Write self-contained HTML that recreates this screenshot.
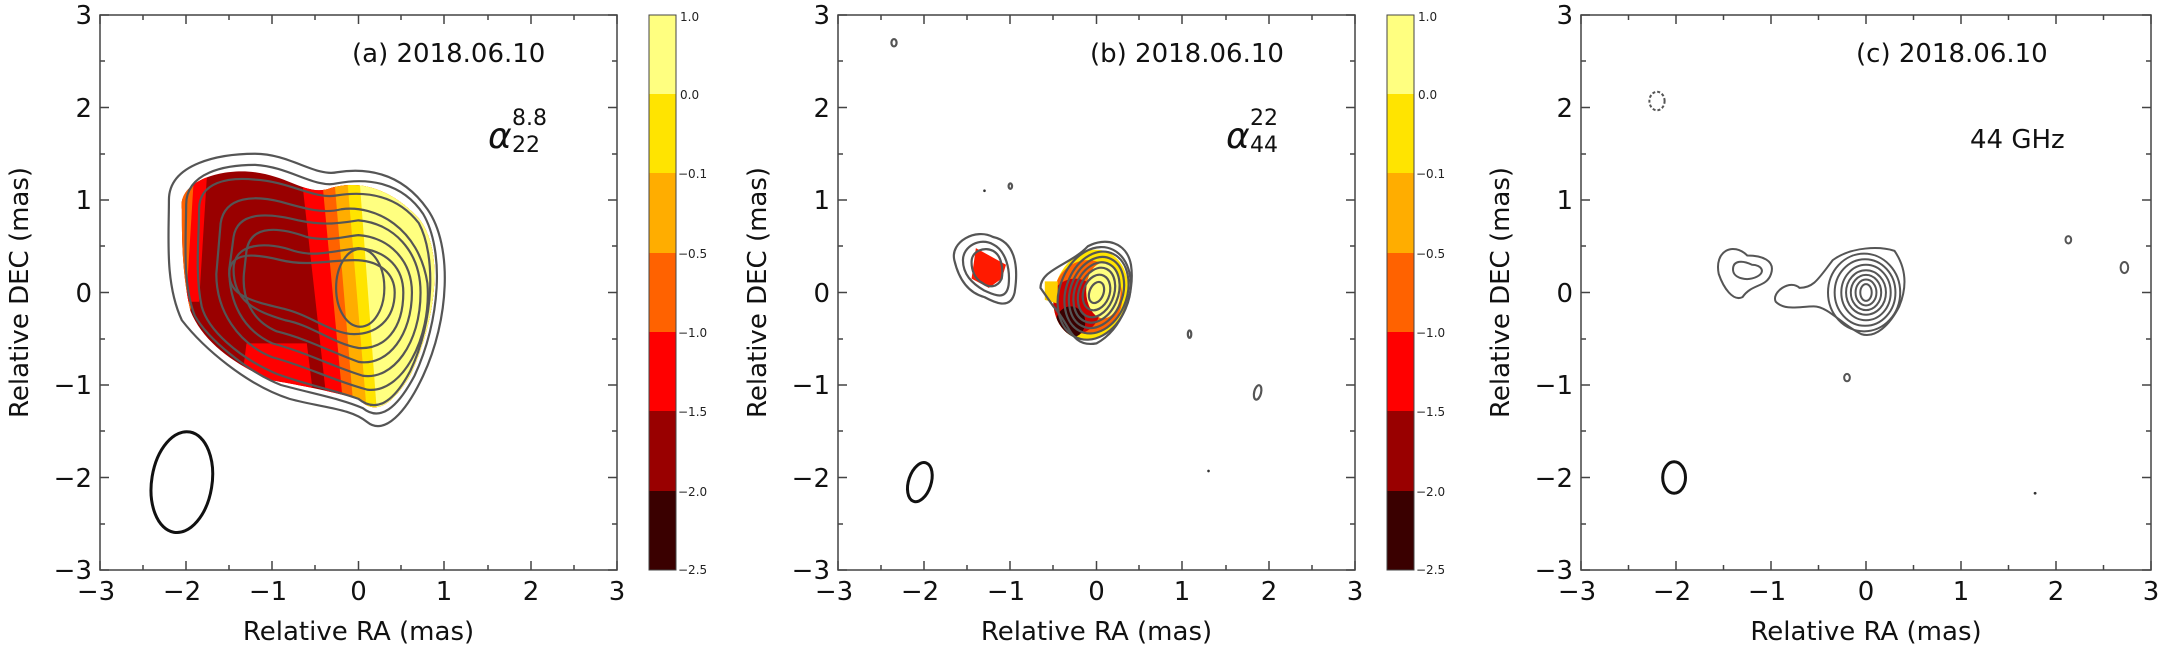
<!DOCTYPE html>
<html><head><meta charset="utf-8"><style>
html,body{margin:0;padding:0;background:#fff}
svg{display:block}
text{font-family:"DejaVu Sans","Liberation Sans",sans-serif}
</style></head><body>
<svg width="2170" height="650" viewBox="0 0 2170 650" xmlns="http://www.w3.org/2000/svg">
<defs>
<clipPath id="blobA"><path d="M-2.05,0.9 C-2.1,1.2 -1.6,1.35 -1.2,1.3 C-0.8,1.25 -0.6,1.05 -0.35,1.12 C-0.1,1.2 0.3,1.2 0.7,0.8 C1.0,0.45 0.9,-0.3 0.6,-0.9 C0.4,-1.2 0.2,-1.35 0.0,-1.15 C-0.4,-1.05 -0.7,-1.0 -1.0,-0.95 C-1.4,-0.8 -1.8,-0.55 -1.95,-0.2 C-2.05,0.2 -2.05,0.6 -2.05,0.9 Z"/></clipPath>
<clipPath id="coreB"><ellipse cx="-0.05" cy="-0.05" rx="0.42" ry="0.5" transform="rotate(-25)"/></clipPath>
</defs>

<!-- ===== PANEL A ===== -->
<g transform="translate(358.5,292.5) scale(86.17,-92.5)">
  <g clip-path="url(#blobA)">
    <rect x="-3" y="-3" width="6" height="6" fill="#990000"/>
    <polygon points="-0.75,2 3,2 3,-3 -0.15,-3" fill="#ff0000"/>
    <polygon points="-0.5,2 3,2 3,-3 0.0,-3" fill="#ff6200"/>
    <polygon points="-0.35,2 3,2 3,-3 0.1,-3" fill="#ffad00"/>
    <polygon points="-0.2,2 3,2 3,-3 0.25,-3" fill="#ffe400"/>
    <polygon points="-0.05,2 3,2 3,-3 0.35,-3" fill="#ffff80"/>
    <polygon points="-2.2,1.4 -1.75,1.4 -1.95,-0.2 -2.2,-0.2" fill="#ff6200"/>
    <polygon points="-1.9,1.4 -1.75,1.4 -1.85,-0.1 -2.0,-0.1" fill="#ff0000"/>
    <polygon points="-1.3,-0.55 -0.6,-0.55 -0.5,-1.3 -1.4,-1.3" fill="#ff0000"/>
  </g>
  <g fill="none" stroke="#555" stroke-width="2.2">
    <path vector-effect="non-scaling-stroke" d="M-2.2,1.0 C-2.2,1.4 -1.6,1.5 -1.2,1.5 C-0.8,1.5 -0.5,1.25 -0.25,1.3 C0.1,1.35 0.5,1.3 0.8,0.9 C1.1,0.5 1.05,-0.3 0.75,-0.9 C0.55,-1.3 0.3,-1.55 0.1,-1.4 C-0.1,-1.25 -0.4,-1.25 -0.8,-1.15 C-1.3,-1.0 -1.8,-0.6 -2.05,-0.3 C-2.25,0.1 -2.2,0.6 -2.2,1.0 Z"/>
    <path vector-effect="non-scaling-stroke" d="M-2.0,0.95 C-2.0,1.3 -1.55,1.38 -1.2,1.38 C-0.8,1.36 -0.5,1.12 -0.25,1.18 C0.1,1.24 0.5,1.2 0.75,0.85 C1.0,0.45 0.95,-0.3 0.65,-0.9 C0.45,-1.25 0.25,-1.4 0.05,-1.25 C-0.2,-1.15 -0.5,-1.1 -0.9,-1.0 C-1.3,-0.85 -1.75,-0.5 -1.9,-0.25 C-2.05,0.1 -2.0,0.6 -2.0,0.95 Z"/>
    <path vector-effect="non-scaling-stroke" d="M-1.85,0.9 C-1.85,1.2 -1.5,1.25 -1.2,1.22 C-0.8,1.2 -0.5,1.0 -0.25,1.05 C0.1,1.1 0.45,1.05 0.7,0.75 C0.9,0.4 0.88,-0.3 0.6,-0.85 C0.4,-1.2 0.2,-1.3 0.0,-1.15 C-0.3,-1.05 -0.6,-1.0 -0.95,-0.88 C-1.4,-0.7 -1.75,-0.4 -1.82,-0.15 C-1.9,0.2 -1.85,0.6 -1.85,0.9 Z"/>
    <path vector-effect="non-scaling-stroke" d="M-1.6,0.75 C-1.55,1.05 -1.2,1.05 -0.9,0.98 C-0.6,0.9 -0.4,0.85 -0.2,0.9 C0.2,0.95 0.7,0.7 0.8,0.1 C0.85,-0.5 0.5,-1.1 0.1,-1.05 C-0.3,-0.95 -0.6,-0.8 -1.0,-0.7 C-1.4,-0.55 -1.65,-0.2 -1.65,0.2 Z"/>
    <path vector-effect="non-scaling-stroke" d="M-1.45,0.6 C-1.4,0.9 -1.0,0.85 -0.7,0.78 C-0.4,0.72 -0.2,0.75 0.0,0.78 C0.4,0.75 0.72,0.45 0.72,0.0 C0.72,-0.55 0.4,-0.95 0.05,-0.9 C-0.3,-0.8 -0.6,-0.65 -1.0,-0.55 C-1.35,-0.4 -1.5,-0.1 -1.5,0.25 Z"/>
    <path vector-effect="non-scaling-stroke" d="M-1.3,0.45 C-1.25,0.75 -0.9,0.7 -0.6,0.6 C-0.35,0.55 -0.2,0.6 0.0,0.62 C0.35,0.6 0.62,0.35 0.62,0.0 C0.62,-0.45 0.35,-0.8 0.0,-0.75 C-0.3,-0.65 -0.6,-0.5 -0.95,-0.42 C-1.25,-0.3 -1.35,-0.05 -1.33,0.2 Z"/>
    <path vector-effect="non-scaling-stroke" d="M-1.45,0.25 C-1.45,0.55 -1.05,0.55 -0.75,0.45 C-0.5,0.38 -0.3,0.45 0.0,0.48 C0.35,0.45 0.52,0.25 0.52,0.0 C0.52,-0.4 0.3,-0.62 0.0,-0.6 C-0.3,-0.55 -0.55,-0.35 -0.85,-0.3 C-1.2,-0.2 -1.45,-0.1 -1.45,0.25 Z"/>
    <path vector-effect="non-scaling-stroke" d="M-1.5,0.2 C-1.5,0.45 -1.2,0.42 -0.9,0.35 C-0.6,0.28 -0.35,0.35 -0.05,0.35 C0.25,0.35 0.42,0.2 0.42,0.0 C0.42,-0.3 0.2,-0.45 -0.05,-0.45 C-0.3,-0.45 -0.55,-0.25 -0.85,-0.18 C-1.2,-0.1 -1.5,-0.05 -1.5,0.2 Z"/>
    <ellipse vector-effect="non-scaling-stroke" cx="0.02" cy="0.05" rx="0.28" ry="0.42"/>
  </g>
  <ellipse vector-effect="non-scaling-stroke" cx="-2.05" cy="-2.05" rx="0.35" ry="0.55" transform="rotate(-10 -2.05 -2.05)" fill="none" stroke="#111" stroke-width="3"/>
</g>

<!-- ===== PANEL B ===== -->
<g transform="translate(1096.5,292.5) scale(86.17,-92.5)">
  <polygon points="-1.4,0.48 -1.05,0.3 -1.1,0.15 -1.25,0.05 -1.45,0.15" fill="#ff1a00"/>
  <g clip-path="url(#coreB)">
    <rect x="-1" y="-1" width="2" height="2" fill="#ffe400"/>
    <circle cx="-0.1" cy="-0.05" r="0.4" fill="#ff6200"/>
    <circle cx="-0.25" cy="-0.15" r="0.3" fill="#cc0000"/>
    <circle cx="-0.3" cy="-0.32" r="0.17" fill="#3a0000"/>
    <ellipse cx="0.08" cy="0.02" rx="0.2" ry="0.3" fill="#ffff80"/>
  </g>
  <polygon points="-0.6,0.12 -0.45,0.12 -0.45,-0.12 -0.6,-0.08" fill="#ffd000"/>
  <g fill="none" stroke="#555" stroke-width="2.2">
    <path vector-effect="non-scaling-stroke" d="M-1.65,0.35 C-1.7,0.55 -1.4,0.7 -1.2,0.6 C-0.95,0.55 -0.9,0.3 -0.95,0.0 C-1.0,-0.2 -1.2,-0.1 -1.3,-0.05 C-1.5,0.0 -1.6,0.15 -1.65,0.35 Z"/>
    <path vector-effect="non-scaling-stroke" d="M-1.55,0.35 C-1.55,0.5 -1.35,0.6 -1.2,0.52 C-1.05,0.45 -1.0,0.25 -1.02,0.08 C-1.05,-0.1 -1.2,-0.02 -1.3,0.02 C-1.45,0.1 -1.55,0.2 -1.55,0.35 Z"/>
    <path vector-effect="non-scaling-stroke" d="M-1.45,0.33 C-1.45,0.45 -1.3,0.5 -1.2,0.45 C-1.1,0.4 -1.08,0.25 -1.1,0.15 C-1.15,0.05 -1.25,0.05 -1.32,0.1 C-1.42,0.15 -1.45,0.25 -1.45,0.33 Z"/>
    <path vector-effect="non-scaling-stroke" d="M-0.65,0.05 C-0.65,0.25 -0.3,0.3 -0.1,0.5 C0.1,0.6 0.35,0.55 0.4,0.3 C0.45,0.0 0.3,-0.4 0.0,-0.55 C-0.3,-0.6 -0.3,-0.35 -0.5,-0.15 Z"/>
    <ellipse vector-effect="non-scaling-stroke" cx="-0.02" cy="-0.02" rx="0.4" ry="0.52" transform="rotate(-25)"/>
    <ellipse vector-effect="non-scaling-stroke" cx="0" cy="0" rx="0.35" ry="0.46" transform="rotate(-25)"/>
    <ellipse vector-effect="non-scaling-stroke" cx="0" cy="0" rx="0.3" ry="0.4" transform="rotate(-25)"/>
    <ellipse vector-effect="non-scaling-stroke" cx="0" cy="0" rx="0.25" ry="0.34" transform="rotate(-25)"/>
    <ellipse vector-effect="non-scaling-stroke" cx="0" cy="0" rx="0.2" ry="0.28" transform="rotate(-25)"/>
    <ellipse vector-effect="non-scaling-stroke" cx="0" cy="0" rx="0.15" ry="0.2" transform="rotate(-25)"/>
    <ellipse vector-effect="non-scaling-stroke" cx="0" cy="0" rx="0.08" ry="0.12" transform="rotate(-25)"/>
    <ellipse vector-effect="non-scaling-stroke" cx="-2.35" cy="2.7" rx="0.03" ry="0.04"/>
    <ellipse vector-effect="non-scaling-stroke" cx="-1.0" cy="1.15" rx="0.02" ry="0.03"/>
    <ellipse vector-effect="non-scaling-stroke" cx="1.08" cy="-0.45" rx="0.02" ry="0.04"/>
    <ellipse vector-effect="non-scaling-stroke" cx="1.87" cy="-1.08" rx="0.04" ry="0.08" transform="rotate(-15 1.87 -1.08)"/>
  </g>
  <circle cx="-1.3" cy="1.1" r="0.015" fill="#333"/>
  <circle cx="1.3" cy="-1.93" r="0.015" fill="#333"/>
  <ellipse vector-effect="non-scaling-stroke" cx="-2.05" cy="-2.05" rx="0.13" ry="0.22" transform="rotate(-20 -2.05 -2.05)" fill="none" stroke="#111" stroke-width="3"/>
</g>

<!-- ===== PANEL C ===== -->
<g transform="translate(1866,292.5) scale(95,-92.5)">
  <g fill="none" stroke="#555" stroke-width="2">
    <path vector-effect="non-scaling-stroke" d="M-1.55,0.2 C-1.6,0.45 -1.4,0.55 -1.25,0.4 C-1.1,0.4 -0.95,0.35 -1.0,0.2 C-1.05,0.05 -1.2,0.1 -1.3,-0.05 C-1.4,-0.1 -1.5,0.05 -1.55,0.2 Z"/>
    <path vector-effect="non-scaling-stroke" d="M-1.4,0.25 C-1.4,0.35 -1.3,0.35 -1.2,0.3 C-1.1,0.3 -1.05,0.22 -1.15,0.17 C-1.25,0.12 -1.4,0.15 -1.4,0.25 Z"/>
    <path vector-effect="non-scaling-stroke" d="M-0.95,-0.1 C-1.0,0.0 -0.8,0.15 -0.7,0.05 C-0.55,0.05 -0.5,0.15 -0.35,0.35 C-0.15,0.5 0.15,0.5 0.3,0.45 C0.4,0.3 0.45,0.1 0.35,-0.15 C0.25,-0.35 0.1,-0.5 -0.05,-0.45 C-0.25,-0.35 -0.4,-0.15 -0.55,-0.15 C-0.7,-0.15 -0.85,-0.2 -0.95,-0.1 Z"/>
    <ellipse vector-effect="non-scaling-stroke" cx="-0.02" cy="0" rx="0.38" ry="0.42"/>
    <ellipse vector-effect="non-scaling-stroke" cx="-0.01" cy="0" rx="0.32" ry="0.36"/>
    <ellipse vector-effect="non-scaling-stroke" cx="0" cy="0" rx="0.26" ry="0.3"/>
    <ellipse vector-effect="non-scaling-stroke" cx="0" cy="0" rx="0.21" ry="0.24"/>
    <ellipse vector-effect="non-scaling-stroke" cx="0" cy="0" rx="0.16" ry="0.19"/>
    <ellipse vector-effect="non-scaling-stroke" cx="0" cy="0" rx="0.11" ry="0.14"/>
    <ellipse vector-effect="non-scaling-stroke" cx="0" cy="0" rx="0.06" ry="0.09"/>
    <ellipse vector-effect="non-scaling-stroke" cx="-2.2" cy="2.07" rx="0.08" ry="0.1" stroke-dasharray="3,2"/>
    <ellipse vector-effect="non-scaling-stroke" cx="-0.2" cy="-0.92" rx="0.03" ry="0.04"/>
    <ellipse vector-effect="non-scaling-stroke" cx="2.13" cy="0.57" rx="0.03" ry="0.04"/>
    <ellipse vector-effect="non-scaling-stroke" cx="2.72" cy="0.27" rx="0.04" ry="0.06"/>
  </g>
  <circle cx="1.78" cy="-2.17" r="0.015" fill="#333"/>
  <ellipse vector-effect="non-scaling-stroke" cx="-2.02" cy="-2.0" rx="0.12" ry="0.17" fill="none" stroke="#111" stroke-width="3"/>
</g>

<!-- Axes frames & ticks -->
<g stroke="#444" stroke-width="1.5" fill="none">
  <rect x="100" y="15" width="517" height="555"/>
  <rect x="838" y="15" width="517" height="555"/>
  <rect x="1581" y="15" width="570" height="555"/>
</g>
<g stroke="#444" stroke-width="1.5">
  <path d="M100,570v-9M143,570v-5M186,570v-9M229,570v-5M272,570v-9M315,570v-5M358.5,570v-9M401,570v-5M444,570v-9M488,570v-5M531,570v-9M574,570v-5M617,570v-9
  M100,15v9M143,15v5M186,15v9M229,15v5M272,15v9M315,15v5M358.5,15v9M401,15v5M444,15v9M488,15v5M531,15v9M574,15v5M617,15v9
  M100,15h9M100,61h5M100,107.5h9M100,154h5M100,200h9M100,246h5M100,292.5h9M100,339h5M100,385h9M100,431h5M100,477.5h9M100,524h5M100,570h9
  M617,15h-9M617,61h-5M617,107.5h-9M617,154h-5M617,200h-9M617,246h-5M617,292.5h-9M617,339h-5M617,385h-9M617,431h-5M617,477.5h-9M617,524h-5M617,570h-9"/>
  <path transform="translate(738,0)" d="M100,570v-9M143,570v-5M186,570v-9M229,570v-5M272,570v-9M315,570v-5M358.5,570v-9M401,570v-5M444,570v-9M488,570v-5M531,570v-9M574,570v-5M617,570v-9
  M100,15v9M143,15v5M186,15v9M229,15v5M272,15v9M315,15v5M358.5,15v9M401,15v5M444,15v9M488,15v5M531,15v9M574,15v5M617,15v9
  M100,15h9M100,61h5M100,107.5h9M100,154h5M100,200h9M100,246h5M100,292.5h9M100,339h5M100,385h9M100,431h5M100,477.5h9M100,524h5M100,570h9
  M617,15h-9M617,61h-5M617,107.5h-9M617,154h-5M617,200h-9M617,246h-5M617,292.5h-9M617,339h-5M617,385h-9M617,431h-5M617,477.5h-9M617,524h-5M617,570h-9"/>
  <path d="M1581,570v-9M1628.5,570v-5M1676,570v-9M1723.5,570v-5M1771,570v-9M1818.5,570v-5M1866,570v-9M1913.5,570v-5M1961,570v-9M2008.5,570v-5M2056,570v-9M2103.5,570v-5M2151,570v-9
  M1581,15v9M1628.5,15v5M1676,15v9M1723.5,15v5M1771,15v9M1818.5,15v5M1866,15v9M1913.5,15v5M1961,15v9M2008.5,15v5M2056,15v9M2103.5,15v5M2151,15v9
  M1581,15h9M1581,61h5M1581,107.5h9M1581,154h5M1581,200h9M1581,246h5M1581,292.5h9M1581,339h5M1581,385h9M1581,431h5M1581,477.5h9M1581,524h5M1581,570h9
  M2151,15h-9M2151,61h-5M2151,107.5h-9M2151,154h-5M2151,200h-9M2151,246h-5M2151,292.5h-9M2151,339h-5M2151,385h-9M2151,431h-5M2151,477.5h-9M2151,524h-5M2151,570h-9"/>
</g>

<g font-size="26" fill="#111" text-anchor="end">
  <text x="92" y="24">3</text><text x="92" y="117">2</text><text x="92" y="209">1</text><text x="92" y="302">0</text><text x="92" y="394">−1</text><text x="92" y="487">−2</text><text x="92" y="579">−3</text>
  <text x="830" y="24">3</text><text x="830" y="117">2</text><text x="830" y="209">1</text><text x="830" y="302">0</text><text x="830" y="394">−1</text><text x="830" y="487">−2</text><text x="830" y="579">−3</text>
  <text x="1573" y="24">3</text><text x="1573" y="117">2</text><text x="1573" y="209">1</text><text x="1573" y="302">0</text><text x="1573" y="394">−1</text><text x="1573" y="487">−2</text><text x="1573" y="579">−3</text>
</g>
<g font-size="26" fill="#111" text-anchor="middle">
  <text x="96" y="600">−3</text><text x="182" y="600">−2</text><text x="268" y="600">−1</text><text x="358.5" y="600">0</text><text x="444" y="600">1</text><text x="531" y="600">2</text><text x="617" y="600">3</text>
  <text x="834" y="600">−3</text><text x="920" y="600">−2</text><text x="1006" y="600">−1</text><text x="1096.5" y="600">0</text><text x="1182" y="600">1</text><text x="1269" y="600">2</text><text x="1355" y="600">3</text>
  <text x="1577" y="600">−3</text><text x="1672" y="600">−2</text><text x="1767" y="600">−1</text><text x="1866" y="600">0</text><text x="1961" y="600">1</text><text x="2056" y="600">2</text><text x="2151" y="600">3</text>
</g>
<g font-size="26" fill="#111" text-anchor="middle">
  <text x="358.5" y="640">Relative RA (mas)</text>
  <text x="1096.5" y="640">Relative RA (mas)</text>
  <text x="1866" y="640">Relative RA (mas)</text>
  <text transform="translate(28,292.5) rotate(-90)">Relative DEC (mas)</text>
  <text transform="translate(766,292.5) rotate(-90)">Relative DEC (mas)</text>
  <text transform="translate(1509,292.5) rotate(-90)">Relative DEC (mas)</text>
</g>
<g font-size="26" fill="#111">
  <text x="352" y="62">(a) 2018.06.10</text>
  <text x="1090" y="62">(b) 2018.06.10</text>
  <text x="1856" y="62">(c) 2018.06.10</text>
  <text x="1970" y="148">44 GHz</text>
  <text x="488" y="148" font-size="36" font-style="italic" font-family="Liberation Serif,serif">α</text>
  <text x="512" y="125" font-size="22">8.8</text><text x="512" y="152" font-size="22">22</text>
  <text x="1226" y="148" font-size="36" font-style="italic" font-family="Liberation Serif,serif">α</text>
  <text x="1250" y="125" font-size="22">22</text><text x="1250" y="152" font-size="22">44</text>
</g>

<g id="cb">
  <rect x="649" y="15" width="27" height="80" fill="#ffff80"/>
  <rect x="649" y="94" width="27" height="80" fill="#ffe400"/>
  <rect x="649" y="173" width="27" height="80" fill="#ffad00"/>
  <rect x="649" y="253" width="27" height="80" fill="#ff6200"/>
  <rect x="649" y="332" width="27" height="80" fill="#ff0000"/>
  <rect x="649" y="411" width="27" height="80" fill="#990000"/>
  <rect x="649" y="491" width="27" height="79" fill="#3a0000"/>
  <rect x="649" y="15" width="27" height="555" fill="none" stroke="#444" stroke-width="1"/>
  <g font-size="12" fill="#222">
    <text x="680" y="21">1.0</text><text x="680" y="99">0.0</text><text x="678" y="178">−0.1</text><text x="678" y="258">−0.5</text><text x="678" y="337">−1.0</text><text x="678" y="416">−1.5</text><text x="678" y="496">−2.0</text><text x="678" y="574">−2.5</text>
  </g>
</g>
<use href="#cb" transform="translate(738,0)"/>
</svg>
</body></html>
